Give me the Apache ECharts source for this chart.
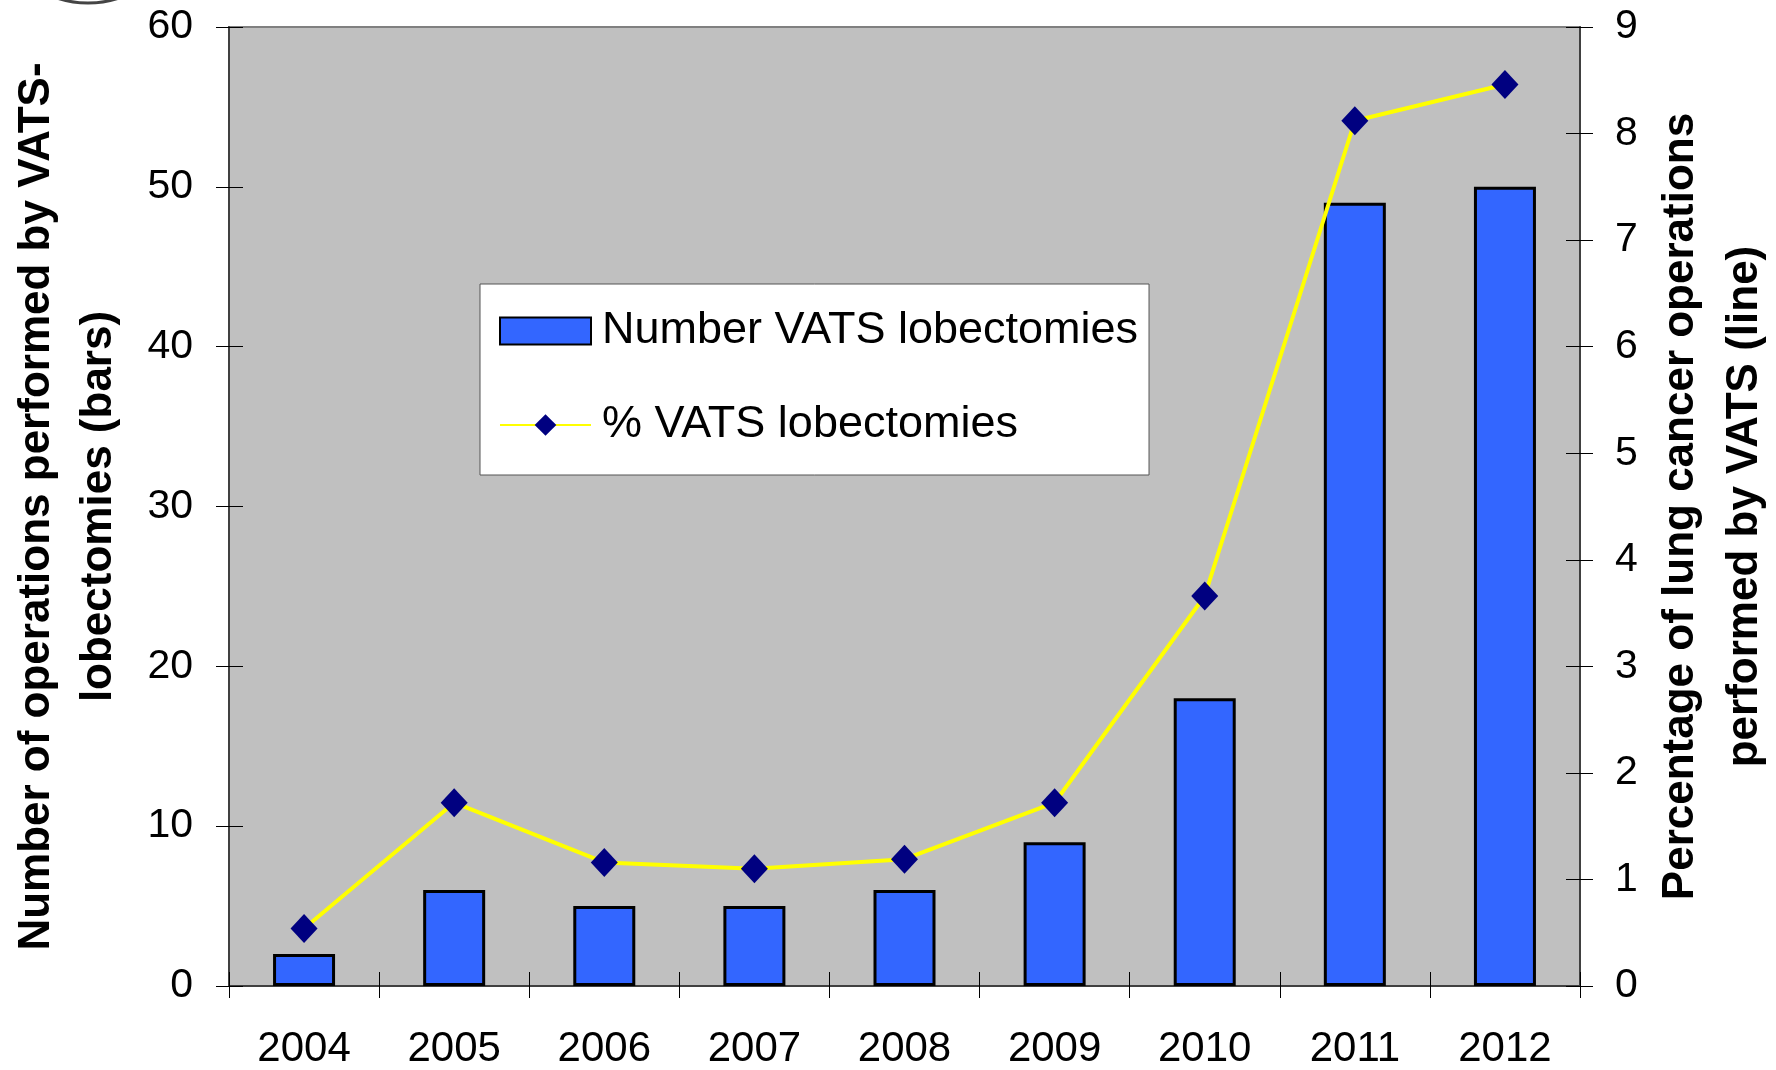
<!DOCTYPE html>
<html>
<head>
<meta charset="utf-8">
<script src="https://cdn.jsdelivr.net/npm/echarts@6/dist/echarts.min.js"></script>
<style>
html,body{margin:0;padding:0;background:#fff;}
#chart{width:1776px;height:1070px;}
</style>
</head>
<body>
<div id="chart"></div>
<script>
var years = ['2004','2005','2006','2007','2008','2009','2010','2011','2012'];
var numberVats = [2, 6, 5, 5, 6, 9, 18, 49, 50];
var percentVats = [0.54, 1.72, 1.16, 1.10, 1.19, 1.72, 3.66, 8.12, 8.46];
var leftTicks = {min: 0, max: 60, interval: 10};
var rightTicks = {min: 0, max: 9, interval: 1};

var FONT = 'Liberation Sans, Arial, sans-serif';
var chart = echarts.init(document.getElementById('chart'));
chart.setOption({
  animation: false,
  textStyle: {fontFamily: FONT, color: '#000'},
  graphic: [{
    type: 'circle', shape: {cx: 88, cy: -97, r: 100}, silent: true,
    style: {fill: 'none', stroke: '#444', lineWidth: 3}
  }],
  grid: {left: 229, right: 196, top: 27, bottom: 84, show: true, containLabel: false,
         outerBoundsMode: 'none',
         backgroundColor: '#C0C0C0', borderColor: '#808080', borderWidth: 2},
  legend: {
    orient: 'vertical', left: 480, top: 284,
    backgroundColor: '#fff', borderColor: '#555', borderWidth: 1,
    padding: [22, 11, 25, 19], itemGap: 44, itemWidth: 91, itemHeight: 27,
    textStyle: {fontFamily: FONT, fontSize: 45, color: '#000', lineHeight: 50, padding: [0,0,0,6]},
    data: [{name: 'Number VATS lobectomies', icon: 'rect'}, {name: '% VATS lobectomies'}]
  },
  xAxis: [{
    type: 'category', data: years,
    axisLine: {lineStyle: {color: '#404040', width: 2}},
    axisTick: {show: true, alignWithLabel: false, length: 12, lineStyle: {color: '#000', width: 1}},
    axisLabel: {fontSize: 42, color: '#000', margin: 42, fontFamily: FONT}
  }, {
    type: 'category', data: years, position: 'bottom',
    axisLine: {show: false},
    axisTick: {show: true, inside: true, length: 14, lineStyle: {color: '#000', width: 1}},
    axisLabel: {show: false}
  }],
  yAxis: [{
    type: 'value', position: 'left', min: leftTicks.min, max: leftTicks.max, interval: leftTicks.interval,
    name: 'Number of operations performed by VATS-\nlobectomies (bars)',
    nameLocation: 'middle', nameGap: 99,
    nameTextStyle: {fontSize: 44, fontWeight: 'bold', color: '#000', lineHeight: 62, fontFamily: FONT},
    axisLine: {show: true, lineStyle: {color: '#404040', width: 2}},
    axisTick: {show: true, length: 13, lineStyle: {color: '#000', width: 1}},
    axisLabel: {fontSize: 41, color: '#000', margin: 36, fontFamily: FONT},
    splitLine: {show: false}
  }, {
    type: 'value', position: 'right', min: rightTicks.min, max: rightTicks.max, interval: rightTicks.interval,
    name: 'Percentage of lung cancer operations\nperformed by VATS (line)',
    nameLocation: 'middle', nameGap: 69,
    nameTextStyle: {fontSize: 44, fontWeight: 'bold', color: '#000', lineHeight: 64, fontFamily: FONT},
    axisLine: {show: true, lineStyle: {color: '#404040', width: 2}},
    axisTick: {show: true, length: 13, lineStyle: {color: '#000', width: 1}},
    axisLabel: {fontSize: 41, color: '#000', margin: 35, fontFamily: FONT},
    splitLine: {show: false}
  }, {
    type: 'value', position: 'left', min: leftTicks.min, max: leftTicks.max, interval: leftTicks.interval,
    axisLine: {show: false}, axisLabel: {show: false}, splitLine: {show: false},
    axisTick: {show: true, inside: true, length: 14, lineStyle: {color: '#000', width: 1}}
  }, {
    type: 'value', position: 'right', min: rightTicks.min, max: rightTicks.max, interval: rightTicks.interval,
    axisLine: {show: false}, axisLabel: {show: false}, splitLine: {show: false},
    axisTick: {show: true, inside: true, length: 14, lineStyle: {color: '#000', width: 1}}
  }],
  series: [{
    name: 'Number VATS lobectomies', type: 'bar', data: numberVats,
    xAxisIndex: 0, yAxisIndex: 0, barWidth: 62,
    itemStyle: {color: '#3366FF', borderColor: '#000', borderWidth: 3}
  }, {
    name: '% VATS lobectomies', type: 'line', data: percentVats,
    xAxisIndex: 0, yAxisIndex: 1,
    symbol: 'diamond', symbolSize: [27, 29],
    lineStyle: {color: '#FFFF00', width: 4},
    itemStyle: {color: '#000080'}
  }]
});
</script>
</body>
</html>
